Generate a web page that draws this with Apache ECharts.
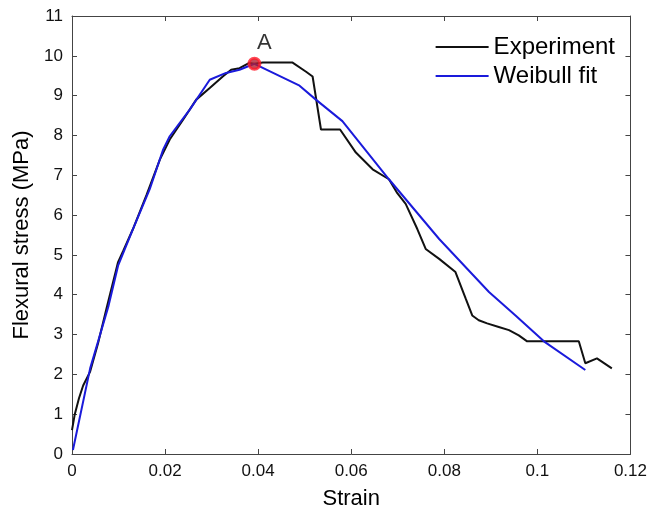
<!DOCTYPE html>
<html>
<head>
<meta charset="utf-8">
<script src="https://cdn.jsdelivr.net/npm/echarts@6/dist/echarts.min.js"></script>
<style>
  html, body { margin: 0; padding: 0; background: #fff; }
  #chart { width: 650px; height: 515px; }
</style>
</head>
<body>
<div id="chart"></div>
<script>
// strain / stress pairs
const experiment = [
  [0, 0.6], [0.0006, 1.0], [0.0015, 1.4], [0.0024, 1.72], [0.0039, 2.07],
  [0.0056, 2.78], [0.0074, 3.65], [0.0099, 4.82], [0.011, 5.1], [0.0131, 5.65],
  [0.016, 6.5], [0.0189, 7.4], [0.021, 7.9], [0.0239, 8.4], [0.0267, 8.9],
  [0.0296, 9.19], [0.0324, 9.48], [0.0342, 9.65], [0.036, 9.69], [0.0381, 9.82],
  [0.0392, 9.8], [0.041, 9.83], [0.0474, 9.83], [0.0503, 9.6], [0.0517, 9.48],
  [0.0535, 8.15], [0.0576, 8.15], [0.061, 7.57], [0.0646, 7.15], [0.0681, 6.9],
  [0.0699, 6.55], [0.0717, 6.28], [0.0742, 5.65], [0.076, 5.15],
  [0.0789, 4.9], [0.0824, 4.57], [0.0846, 3.9], [0.086, 3.48],
  [0.0874, 3.36], [0.0892, 3.28], [0.0917, 3.19], [0.0939, 3.11], [0.096, 2.98],
  [0.0978, 2.83], [0.1089, 2.83], [0.1103, 2.28], [0.1128, 2.4], [0.116, 2.15]
];

const weibull = [
  [0.0002, 0.1], [0.0039, 2.15], [0.0078, 3.7], [0.0099, 4.73], [0.0131, 5.65],
  [0.0167, 6.65], [0.0196, 7.65], [0.021, 7.98], [0.0253, 8.65], [0.0296, 9.4],
  [0.0331, 9.57], [0.036, 9.65], [0.0392, 9.8], [0.0489, 9.25], [0.0524, 8.9],
  [0.0581, 8.36], [0.0681, 6.9], [0.0789, 5.4], [0.0896, 4.07], [0.0953, 3.48],
  [0.1014, 2.83], [0.1103, 2.11]
];

const peakPoint = [[0.0392, 9.8]];
const peakLabel = 'A';

const xTicks = [0, 0.02, 0.04, 0.06, 0.08, 0.1, 0.12];
const yTicks = [0, 1, 2, 3, 4, 5, 6, 7, 8, 9, 10, 11];

const font = 'Liberation Sans, Arial, sans-serif';
const axisColor = '#444';

const myChart = echarts.init(document.getElementById('chart'));

const baseX = {
  type: 'value',
  min: xTicks[0],
  max: xTicks[xTicks.length - 1],
  interval: 0.02,
  splitLine: { show: false },
  axisLine: { show: true, onZero: false, lineStyle: { color: axisColor, width: 1 } },
  axisTick: { show: true, inside: true, length: 5, lineStyle: { color: axisColor } }
};
const baseY = {
  type: 'value',
  min: yTicks[0],
  max: yTicks[yTicks.length - 1],
  interval: 1,
  splitLine: { show: false },
  axisLine: { show: true, onZero: false, lineStyle: { color: axisColor, width: 1 } },
  axisTick: { show: true, inside: true, length: 5, lineStyle: { color: axisColor } }
};

const option = {
  animation: false,
  backgroundColor: '#fff',
  grid: { left: 72, right: 18, top: 16, bottom: 58 },
  legend: {
    orient: 'vertical',
    right: 30,
    top: 30,
    icon: 'rect',
    itemWidth: 53,
    itemHeight: 2,
    itemGap: 5,
    data: ['Experiment', 'Weibull fit'],
    textStyle: { fontFamily: font, fontSize: 24, color: '#000', padding: [0, 0, 0, 0] }
  },
  xAxis: [
    Object.assign({}, baseX, {
      position: 'bottom',
      name: 'Strain',
      nameLocation: 'middle',
      nameGap: 34,
      nameTextStyle: { fontFamily: font, fontSize: 22, color: '#000' },
      axisLabel: {
        fontFamily: font, fontSize: 17, color: '#111', margin: 9,
        formatter: v => String(+v.toFixed(2))
      }
    }),
    Object.assign({}, baseX, { position: 'top', axisLabel: { show: false } })
  ],
  yAxis: [
    Object.assign({}, baseY, {
      position: 'left',
      name: 'Flexural stress (MPa)',
      nameLocation: 'middle',
      nameGap: 36,
      nameTextStyle: { fontFamily: font, fontSize: 22, color: '#000' },
      axisLabel: { fontFamily: font, fontSize: 17, color: '#111', margin: 9 }
    }),
    Object.assign({}, baseY, { position: 'right', axisLabel: { show: false } })
  ],
  series: [
    {
      name: 'Experiment',
      type: 'line',
      data: experiment,
      symbol: 'none',
      lineStyle: { color: '#111', width: 2 },
      itemStyle: { color: '#111' },
      z: 2
    },
    {
      name: 'Weibull fit',
      type: 'line',
      data: weibull,
      symbol: 'none',
      lineStyle: { color: '#1a1adb', width: 2 },
      itemStyle: { color: '#1a1adb' },
      z: 3
    },
    {
      name: 'peak',
      type: 'scatter',
      data: peakPoint,
      symbol: 'circle',
      symbolSize: 11,
      itemStyle: { color: '#b02030', borderColor: '#ff1a2a', borderWidth: 3 },
      label: {
        show: true,
        formatter: peakLabel,
        position: 'top',
        offset: [10, 2],
        fontFamily: font,
        fontSize: 22,
        color: '#000'
      },
      z: 5
    }
  ]
};

myChart.setOption(option);
window.addEventListener('resize', () => myChart.resize());
</script>
</body>
</html>
